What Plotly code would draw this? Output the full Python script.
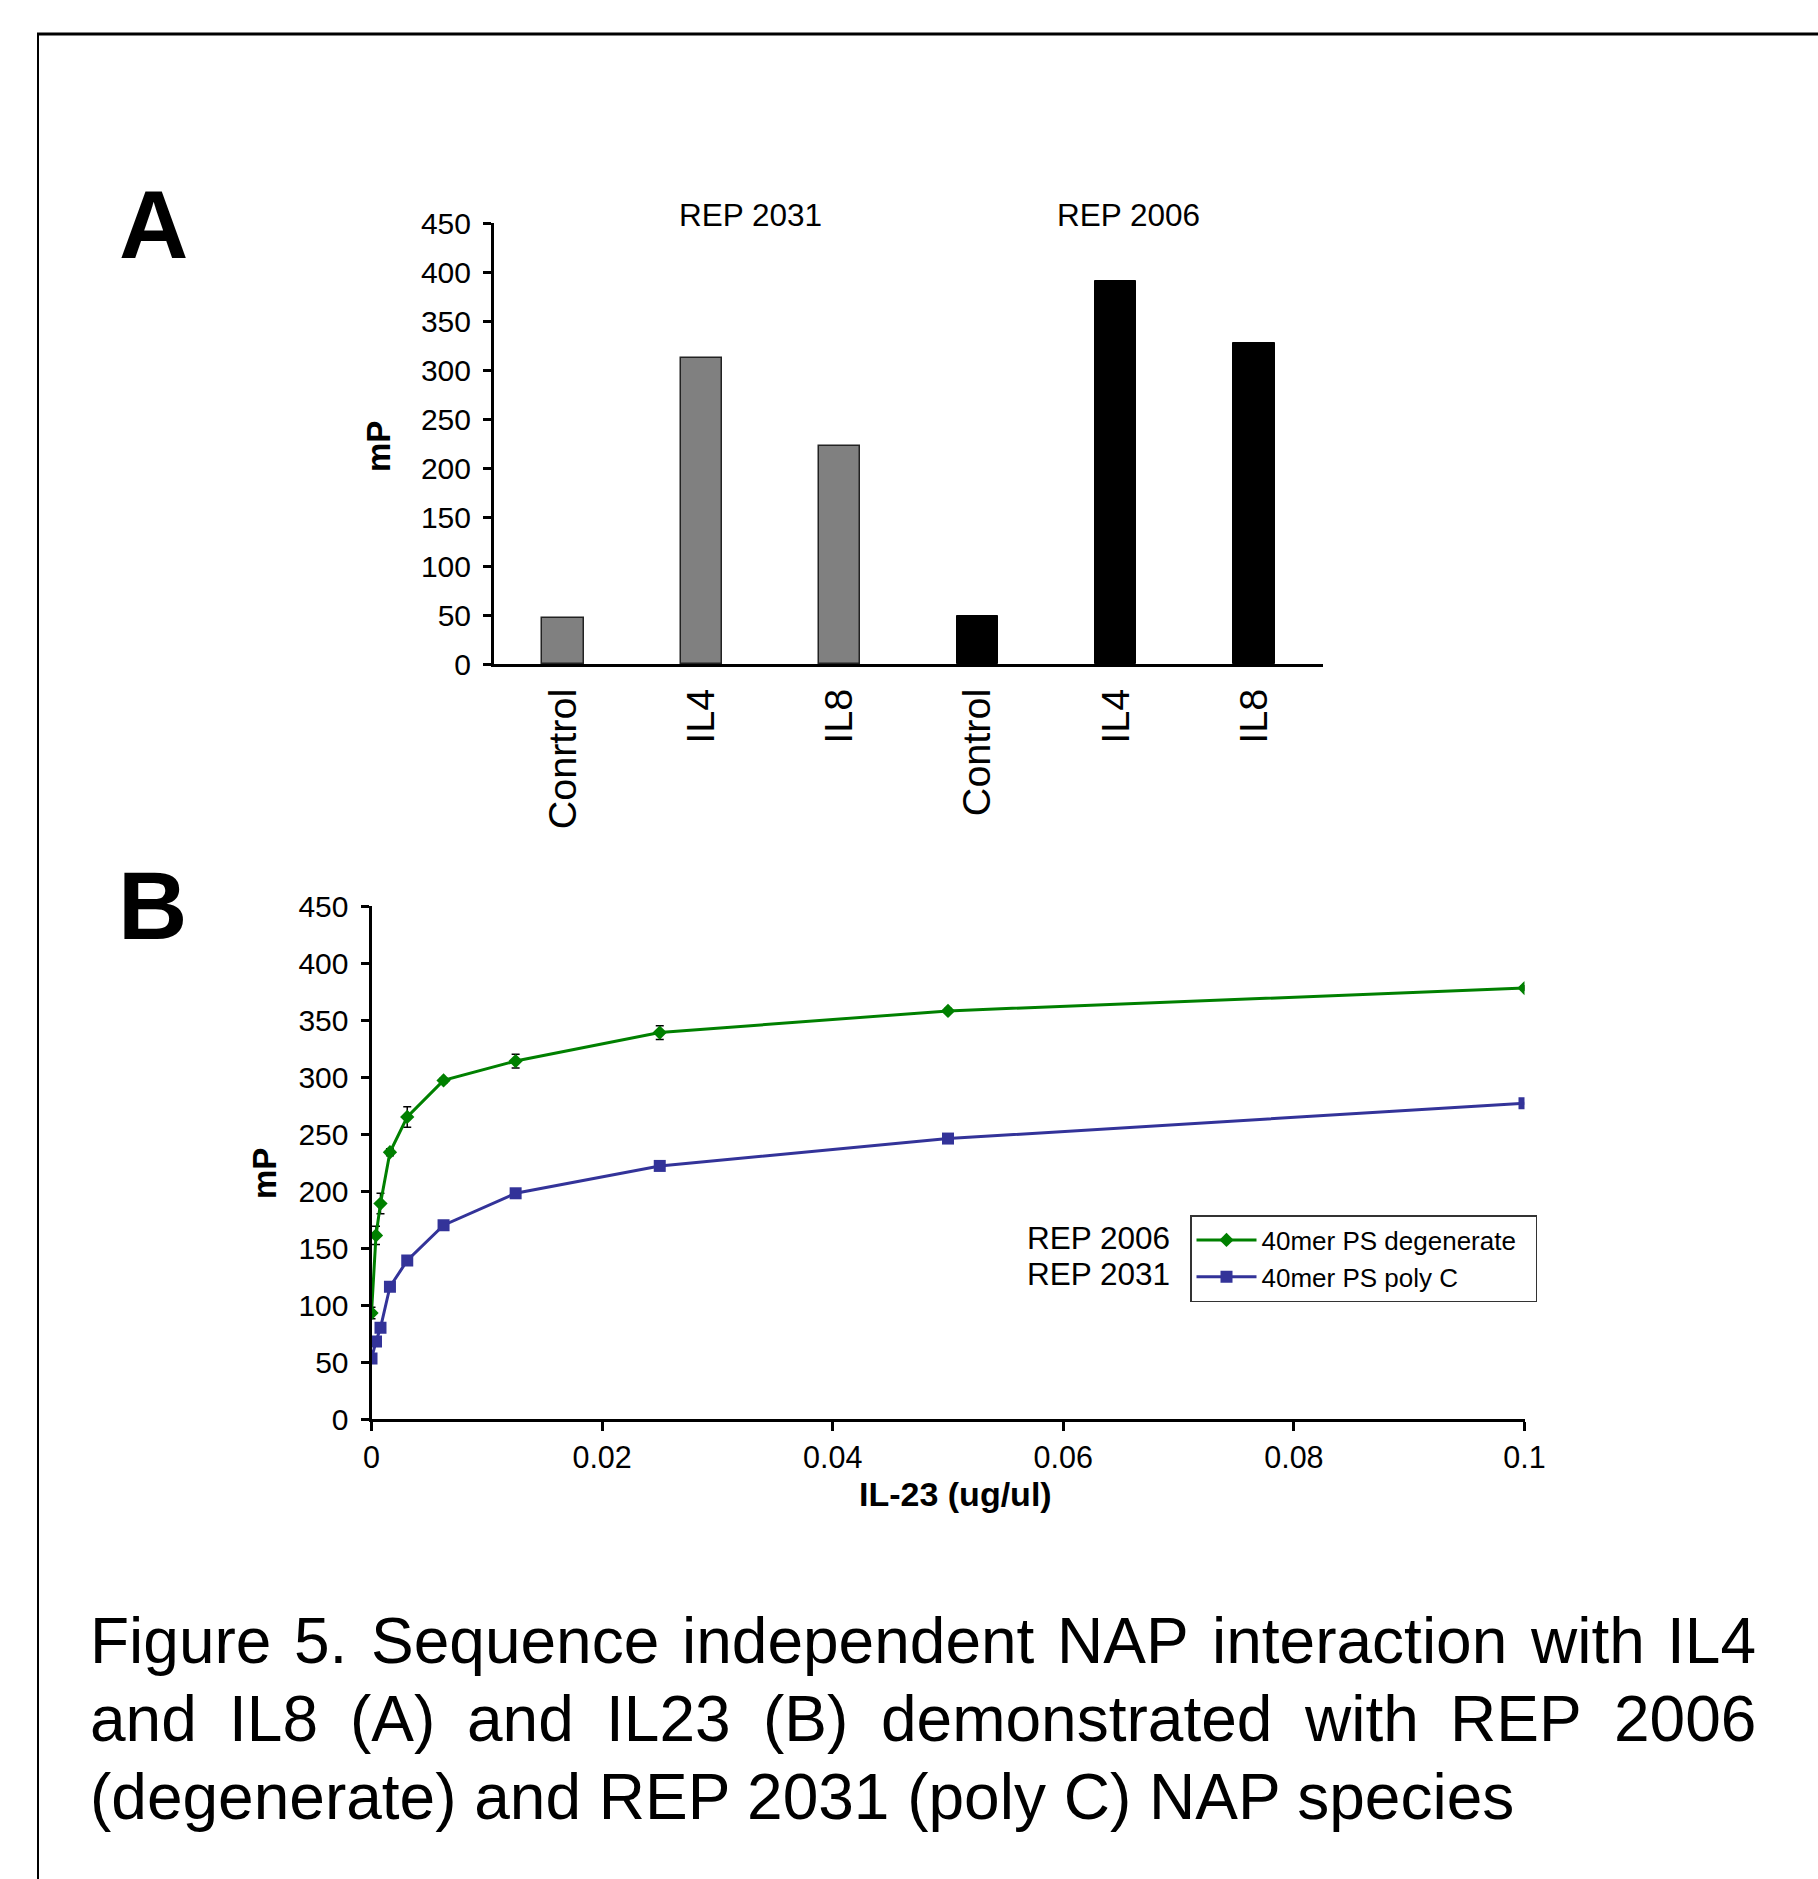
import plotly.graph_objects as go

W, H = 1818, 1879
FONT = "Liberation Sans, Arial, sans-serif"

# ---------------- data ----------------
# Panel A
bar_labels = ["Conrtrol", "IL4", "IL8", "Control", "IL4", "IL8"]
rep2031_vals = [47, 312, 222]
rep2006_vals = [49, 391, 328]

# Panel B
il23_conc = [0, 0.00039, 0.00078, 0.0016, 0.0031, 0.00625, 0.0125, 0.025, 0.05, 0.1]
degenerate_mp = [93, 161, 189, 234, 265, 297, 314, 339, 358, 378]
degenerate_err = [5, 8, 9, 3, 9, 2, 6, 6, 2, 2]
polyc_mp = [53, 68, 80, 116, 139, 170, 198, 222, 246, 277]

x_ticks_b = [0, 0.02, 0.04, 0.06, 0.08, 0.1]
x_ticktext_b = ["0", "0.02", "0.04", "0.06", "0.08", "0.1"]

caption_line1 = ["Figure", "5.", "Sequence", "independent", "NAP", "interaction", "with", "IL4"]
caption_line2 = ["and", "IL8", "(A)", "and", "IL23", "(B)", "demonstrated", "with", "REP", "2006"]
caption_line3 = "(degenerate) and REP 2031 (poly C) NAP species"

# Arial / Liberation Sans advance widths (1/1000 em), used to justify the caption
ADV = {" ": 278, "(": 333, ")": 333, ".": 278, "0": 556, "1": 556, "2": 556, "3": 556,
       "4": 556, "5": 556, "6": 556, "8": 556, "A": 667, "B": 667, "C": 722, "E": 667,
       "F": 611, "I": 278, "L": 556, "N": 722, "P": 667, "R": 722, "S": 667,
       "a": 556, "c": 500, "d": 556, "e": 556, "g": 556, "h": 556, "i": 222, "l": 222,
       "m": 833, "n": 556, "o": 556, "p": 556, "q": 556, "r": 333, "s": 500, "t": 278,
       "u": 556, "w": 722, "y": 500}


def text_w(s, size):
    return sum(ADV.get(c, 556) for c in s) / 1000 * size


def px(x):
    return x / W


def py(y):
    return 1 - y / H


fig = go.Figure()

xa = list(range(len(bar_labels)))
fig.add_trace(go.Bar(x=xa[:3], y=rep2031_vals, width=0.3,
                     marker=dict(color="#808080", line=dict(color="#222222", width=1.5)),
                     showlegend=False, xaxis="x", yaxis="y"))
fig.add_trace(go.Bar(x=xa[3:], y=rep2006_vals, width=0.3,
                     marker=dict(color="#000000", line=dict(color="#000000", width=1)),
                     showlegend=False, xaxis="x", yaxis="y"))

fig.add_trace(go.Scatter(x=il23_conc, y=degenerate_mp, mode="lines+markers",
                         name="40mer PS degenerate\u00a0\u00a0",
                         line=dict(color="#008000", width=3),
                         marker=dict(symbol="diamond", size=11, color="#008000"),
                         error_y=dict(type="data", array=degenerate_err, color="#000000",
                                      thickness=1.5, width=4),
                         xaxis="x2", yaxis="y2"))
fig.add_trace(go.Scatter(x=il23_conc, y=polyc_mp, mode="lines+markers",
                         name="40mer PS poly C",
                         line=dict(color="#333399", width=3),
                         marker=dict(symbol="square", size=12, color="#333399"),
                         xaxis="x2", yaxis="y2"))

axis_common = dict(showgrid=False, zeroline=False, showline=True, linecolor="#000000",
                   linewidth=3, tickcolor="#000000", tickwidth=2.5, automargin=False)

fig.update_layout(
    width=W, height=H,
    margin=dict(l=0, r=0, t=0, b=0, pad=0, autoexpand=False),
    paper_bgcolor="white", plot_bgcolor="white",
    font=dict(family=FONT, color="#000000"),
    bargap=0,
    xaxis=dict(domain=[px(494), px(1323)], range=[-0.5, 5.5], anchor="y",
               tickmode="array", tickvals=xa, ticktext=bar_labels, tickangle=-90,
               ticks="", ticklabelstandoff=6,
               tickfont=dict(family=FONT, size=39.5, color="#000000"), **axis_common),
    yaxis=dict(domain=[py(664), py(223)], range=[0, 450], dtick=50, anchor="x",
               ticks="outside", ticklen=8, ticklabelstandoff=6,
               tickfont=dict(family=FONT, size=30, color="#000000"), **axis_common),
    xaxis2=dict(domain=[px(371.5), px(1524.5)], range=[0, 0.1], anchor="y2",
                tickmode="array", tickvals=x_ticks_b, ticktext=x_ticktext_b,
                ticks="outside", ticklen=9, ticklabelstandoff=0,
                tickfont=dict(family=FONT, size=30.5, color="#000000"), **axis_common),
    yaxis2=dict(domain=[py(1419), py(906)], range=[0, 450], dtick=50, anchor="x2",
                ticks="outside", ticklen=8, ticklabelstandoff=6,
                tickfont=dict(family=FONT, size=30, color="#000000"), **axis_common),
    legend=dict(x=px(1190), y=py(1215), xanchor="left", yanchor="top",
                bordercolor="#333333", borderwidth=1.5, bgcolor="white",
                font=dict(family=FONT, size=26, color="#000000"),
                itemwidth=60, tracegroupgap=0),
)

ann = []
ann.append(dict(text="<b>A</b>", x=px(153), y=py(224), font=dict(size=96)))
ann.append(dict(text="<b>B</b>", x=px(152), y=py(905), font=dict(size=96)))
ann.append(dict(text="<b>mP</b>", x=px(379), y=py(447), textangle=-90, font=dict(size=33)))
ann.append(dict(text="<b>mP</b>", x=px(264), y=py(1174), textangle=-90, font=dict(size=33)))
ann.append(dict(text="<b>IL-23 (ug/ul)</b>", x=px(955), y=py(1494), font=dict(size=34)))
ann.append(dict(text="REP 2031", x=px(750), y=py(215), font=dict(size=31.5)))
ann.append(dict(text="REP 2006", x=px(1128), y=py(215), font=dict(size=31.5)))
ann.append(dict(text="REP 2006", x=px(1172), y=py(1238), xanchor="right", font=dict(size=31.5)))
ann.append(dict(text="REP 2031", x=px(1172), y=py(1274), xanchor="right", font=dict(size=31.5)))

# caption: lines 1 and 2 justified between x=90 and x=1756
cap_size = 64
CAP_L, CAP_R = 90, 1756
for words, ycap in ((caption_line1, 1641), (caption_line2, 1719)):
    widths = [text_w(w, cap_size) for w in words]
    gap = (CAP_R - CAP_L - sum(widths)) / (len(words) - 1)
    xpos = CAP_L
    for w, ww in zip(words, widths):
        ann.append(dict(text=w, x=px(xpos - 2), y=py(ycap), xanchor="left",
                        font=dict(size=cap_size)))
        xpos += ww + gap
ann.append(dict(text=caption_line3, x=px(CAP_L - 2), y=py(1797), xanchor="left",
                font=dict(size=cap_size)))

for a in ann:
    a.setdefault("xanchor", "center")
    a.update(xref="paper", yref="paper", showarrow=False, yanchor="middle")
    a["font"] = dict(family=FONT, color="#000000", **a["font"])
fig.update_layout(annotations=ann)

fig.update_layout(shapes=[
    dict(type="line", xref="paper", yref="paper", x0=px(37), x1=1, y0=py(34), y1=py(34),
         line=dict(color="#000000", width=3)),
    dict(type="line", xref="paper", yref="paper", x0=px(38), x1=px(38), y0=py(33), y1=0,
         line=dict(color="#000000", width=2)),
])

fig.write_html("out.html", config={"displayModeBar": False},
               post_script="document.body.style.margin='0';document.body.style.overflow='hidden';")
